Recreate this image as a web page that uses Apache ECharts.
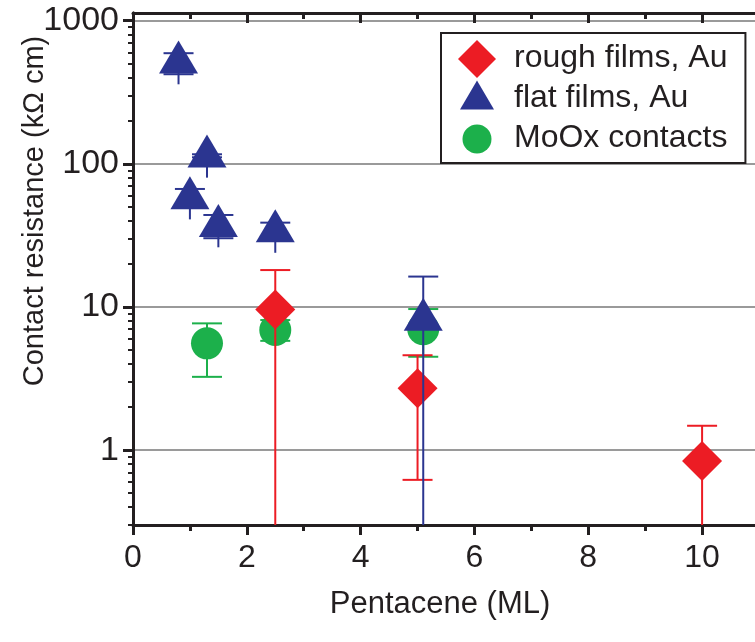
<!DOCTYPE html>
<html><head><meta charset="utf-8">
<script src="https://cdn.jsdelivr.net/npm/echarts@6/dist/echarts.min.js"></script>
<style>html,body{margin:0;padding:0;background:#fff}#c{width:755px;height:642px}</style>
</head><body><div id="c"></div>
<script>
// rough films, Au
const roughX = [2.5, 5.0, 10.0];
const roughY = [9.6, 2.7, 0.84];
const roughHi = [18.1, 4.6, 1.48];
const roughLo = [null, 0.62, null];
// flat films, Au
const flatX = [0.8, 1.0, 1.3, 1.5, 2.5, 5.1];
const flatY = [556, 62.7, 123, 40.2, 36.9, 8.9];
const flatCapHi = [592, 66.7, 116.5, 43.9, 38.8, 16.3];
const flatCapLo = [422, null, 111, 30.2, null, null];
const flatTail = [359, 40.9, 80, 26.1, 23.9, null];
// MoOx contacts
const moX = [1.3, 2.5, 5.1];
const moY = [5.57, 6.9, 7.0];
const moHi = [7.68, 8.1, 9.67];
const moLo = [3.25, 5.8, 4.49];

const xMajor = [0, 2, 4, 6, 8, 10];
const xMinor = [1, 3, 5, 7, 9];
const yMajor = [1, 10, 100, 1000];
const yMinor = [0.3, 0.4, 0.5, 0.6, 0.7, 0.8, 0.9, 2, 3, 4, 5, 6, 7, 8, 9, 20, 30, 40, 50, 60, 70, 80, 90, 200, 300, 400, 500, 600, 700, 800, 900];

const X_MIN = 0, X_MAX = 11, Y_MIN = 0.3, Y_MAX = 1130;
const RED = '#ec1c24', BLUE = '#2b3590', GREEN = '#1cb04b', INK = '#231f20';
const FONT = 'Liberation Sans, Arial, sans-serif';

function errData(xs, tops, bots, capT, capB) {
  return xs.map((x, i) => [x, tops[i], bots[i] == null ? Y_MIN : bots[i],
    capT[i] == null ? NaN : capT[i], capB[i] == null ? NaN : capB[i]]);
}
function errRender(color) {
  return function (params, api) {
    const x = api.value(0);
    const a = api.coord([x, api.value(1)]);
    const b = api.coord([x, api.value(2)]);
    const kids = [{ type: 'line', shape: { x1: a[0], y1: a[1], x2: b[0], y2: b[1] },
      style: { stroke: color, lineWidth: 2 } }];
    [api.value(3), api.value(4)].forEach(v => {
      if (!isNaN(v) && v > 0) {
        const p = api.coord([x, v]);
        kids.push({ type: 'line', shape: { x1: p[0] - 15, y1: p[1], x2: p[0] + 15, y2: p[1] },
          style: { stroke: color, lineWidth: 2 } });
      }
    });
    return { type: 'group', children: kids };
  };
}

const roughErr = errData(roughX, roughHi, roughLo, roughHi, roughLo);
const flatErr = errData(flatX, flatCapHi.map((c, i) => Math.max(c, flatY[i])), flatTail, flatCapHi, flatCapLo);
const moErr = errData(moX, moHi, moLo, moHi, moLo);

const pts = (xs, ys) => xs.map((x, i) => [x, ys[i]]);

const baseLog = { type: 'log', logBase: 10, min: Y_MIN, max: Y_MAX, splitLine: { show: false }, axisLabel: { show: false } };
const baseX = { type: 'value', min: X_MIN, max: X_MAX, splitLine: { show: false }, axisLabel: { show: false } };
const line = { show: true, lineStyle: { color: INK, width: 3 } };
const noLine = { show: false };

const chart = echarts.init(document.getElementById('c'), null, { renderer: 'canvas' });
chart.setOption({
  animation: false,
  backgroundColor: '#fff',
  grid: { left: 133, right: -4, top: 13, bottom: 117, containLabel: false, outerBoundsMode: 'none' },
  legend: {
    orient: 'vertical', left: 441, top: 33,
    padding: [5, 18, 5, 16], itemGap: 0, itemWidth: 40, itemHeight: 40,
    borderColor: INK, borderWidth: 2, backgroundColor: '#fff',
    textStyle: { fontSize: 32, fontFamily: FONT, color: INK, padding: [0, 0, 0, 12] },
    data: [
      { name: 'rough films, Au', icon: 'path://M0,0M40,40M20,2L39,21L20,40L1,21Z', itemStyle: { color: RED } },
      { name: 'flat films, Au', icon: 'path://M0,0M40,40M20,2.5L37,31.5L3,31.5Z', itemStyle: { color: BLUE } },
      { name: 'MoOx contacts', icon: 'path://M0,0M40,40M5.5,21A14.5,14.5 0 1,1 34.5,21A14.5,14.5 0 1,1 5.5,21Z', itemStyle: { color: GREEN } }
    ]
  },
  xAxis: [
    Object.assign({}, baseX, {
      position: 'bottom', name: 'Pentacene (ML)', nameLocation: 'middle', nameGap: 64, nameMoveOverlap: false,
      nameTextStyle: { fontSize: 31, fontFamily: FONT, color: INK, padding: [0, 12, 0, 0] },
      axisLine: line,
      axisTick: { show: true, inside: false, length: 10, customValues: xMajor, lineStyle: { color: INK, width: 3 } },
      axisLabel: { show: true, customValues: xMajor, margin: 17, fontSize: 32, fontFamily: FONT, color: INK }
    }),
    Object.assign({}, baseX, {
      position: 'bottom', axisLine: noLine,
      axisTick: { show: true, inside: false, length: 6, customValues: xMinor, lineStyle: { color: INK, width: 3 } }
    }),
    Object.assign({}, baseX, {
      position: 'top', axisLine: line,
      axisTick: { show: true, inside: true, length: 10, customValues: xMajor, lineStyle: { color: INK, width: 3 } }
    }),
    Object.assign({}, baseX, {
      position: 'top', axisLine: noLine,
      axisTick: { show: true, inside: true, length: 6, customValues: xMinor, lineStyle: { color: INK, width: 3 } }
    })
  ],
  yAxis: [
    Object.assign({}, baseLog, {
      position: 'left', name: 'Contact resistance (k\u03A9 cm)', nameLocation: 'middle', nameGap: 84, nameRotate: 90, nameMoveOverlap: false,
      nameTextStyle: { fontSize: 29, fontFamily: FONT, color: INK, padding: [0, 0, 0, 116] },
      axisLine: line,
      axisTick: { show: true, inside: false, length: 9, customValues: yMajor, lineStyle: { color: INK, width: 3 } },
      axisLabel: { show: true, customValues: yMajor, margin: 14, fontSize: 34, fontFamily: FONT, color: INK, formatter: v => String(Math.round(v)) },
      splitLine: { show: true, lineStyle: { color: '#9a9a9a', width: 2 } }
    }),
    Object.assign({}, baseLog, {
      position: 'left', axisLine: noLine,
      axisTick: { show: true, inside: false, length: 5, customValues: yMinor, lineStyle: { color: INK, width: 2 } }
    }),
    Object.assign({}, baseLog, {
      position: 'right', axisLine: line,
      axisTick: { show: true, inside: true, length: 10, customValues: yMajor, lineStyle: { color: INK, width: 3 } }
    }),
    Object.assign({}, baseLog, {
      position: 'right', axisLine: noLine,
      axisTick: { show: true, inside: true, length: 5, customValues: yMinor, lineStyle: { color: INK, width: 2 } }
    })
  ],
  series: [
    { name: 'MoOx contacts', type: 'custom', z: 2, renderItem: errRender(GREEN), itemStyle: { color: GREEN }, data: moErr, encode: { x: 0, y: 1 }, silent: true },
    { name: 'MoOx contacts', type: 'scatter', z: 3, symbol: 'circle', symbolSize: 32, itemStyle: { color: GREEN, opacity: 1 }, data: pts(moX, moY) },
    { name: 'rough films, Au', type: 'custom', z: 4, renderItem: errRender(RED), itemStyle: { color: RED }, data: roughErr, encode: { x: 0, y: 1 }, silent: true },
    { name: 'rough films, Au', type: 'scatter', z: 5, symbol: 'diamond', symbolSize: 40, itemStyle: { color: RED, opacity: 1 }, data: pts(roughX, roughY) },
    { name: 'flat films, Au', type: 'custom', z: 6, renderItem: errRender(BLUE), itemStyle: { color: BLUE }, data: flatErr, encode: { x: 0, y: 1 }, silent: true },
    { name: 'flat films, Au', type: 'scatter', z: 7, symbol: 'triangle', symbolSize: [39, 33], itemStyle: { color: BLUE, opacity: 1 }, data: pts(flatX, flatY) }
  ]
});
</script></body></html>
